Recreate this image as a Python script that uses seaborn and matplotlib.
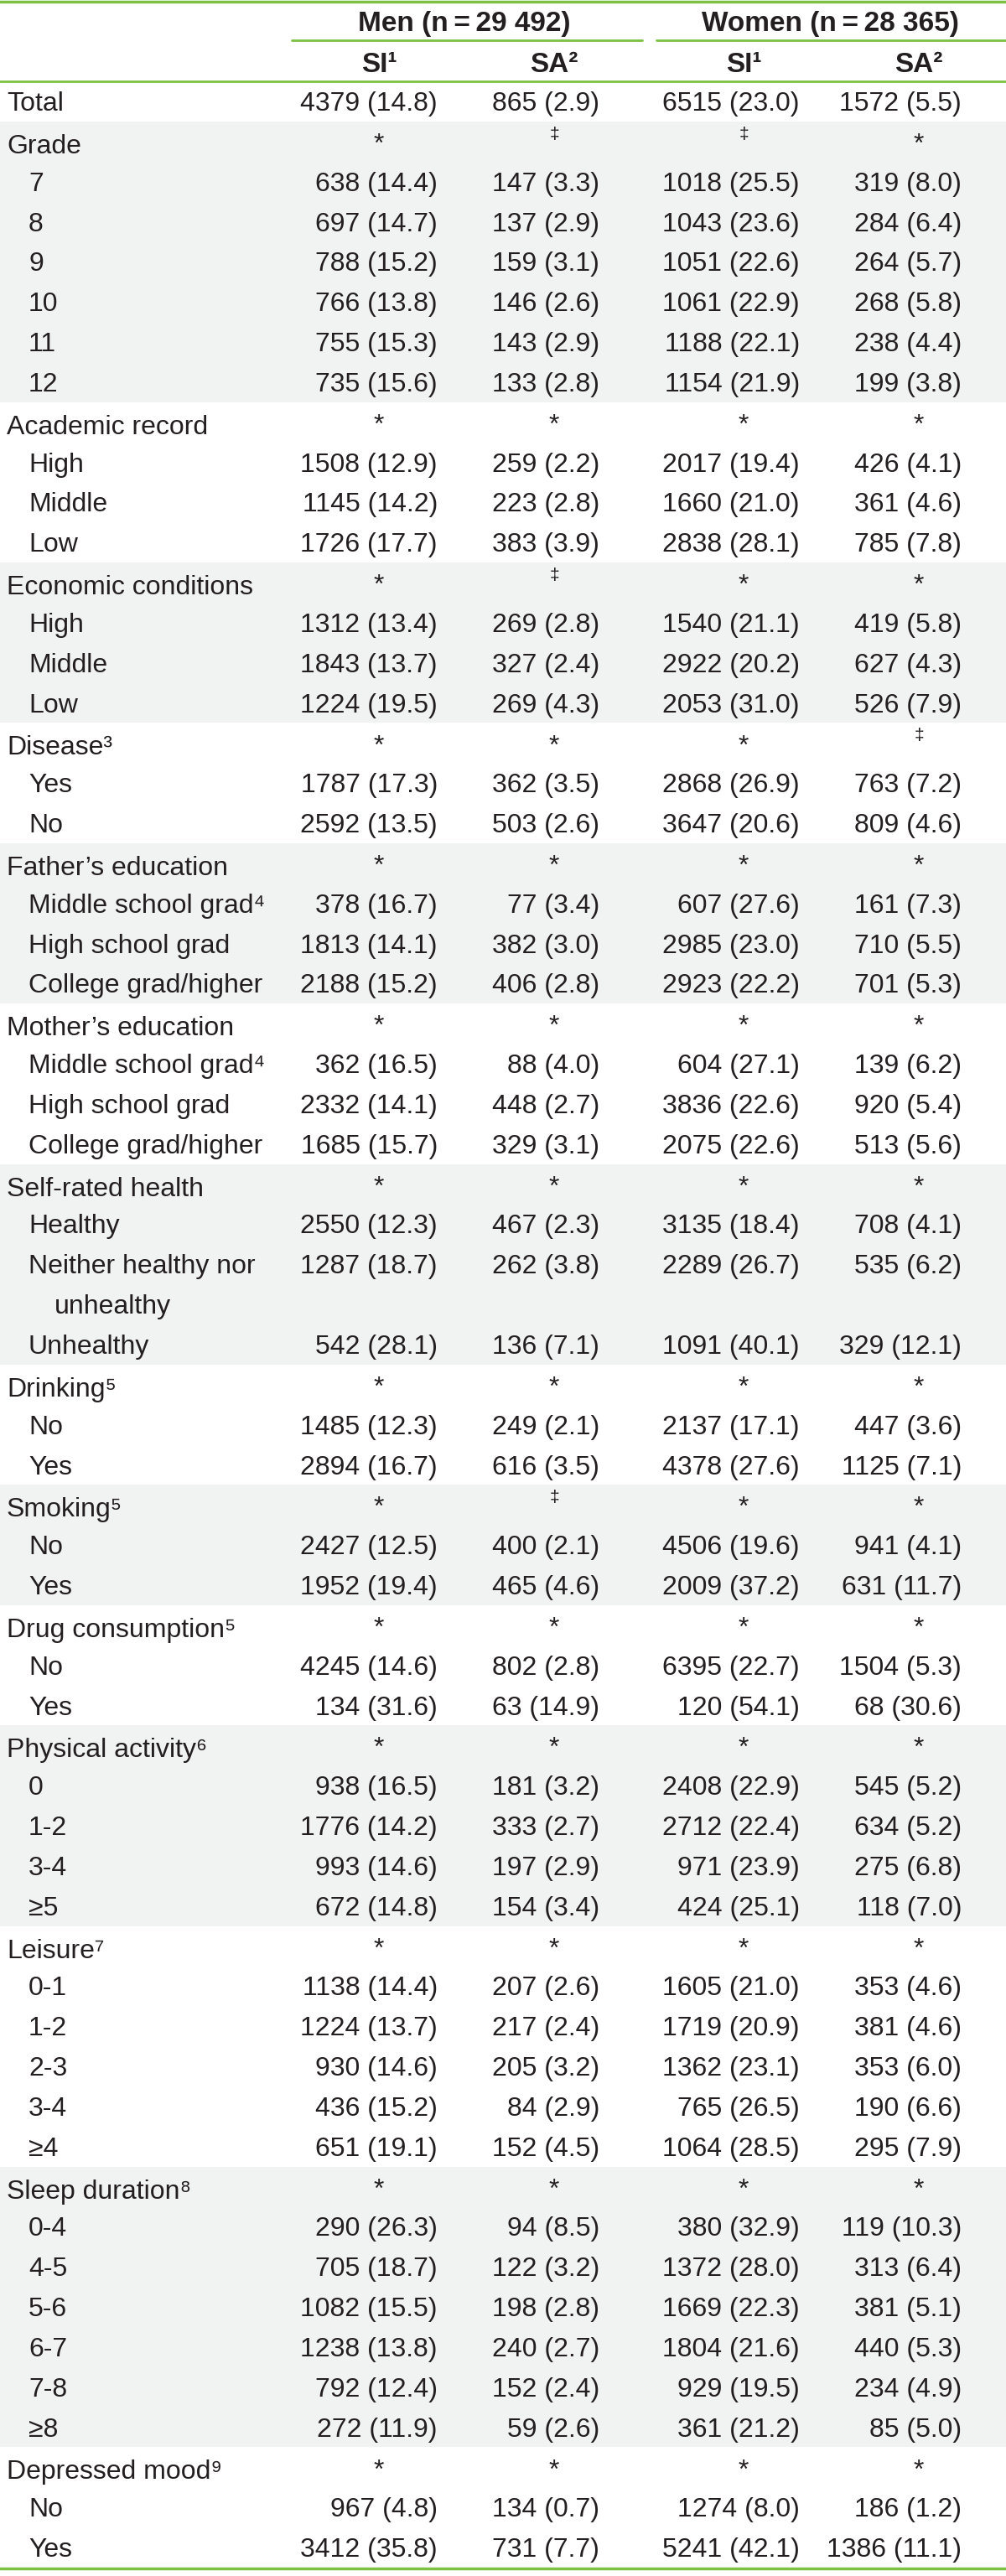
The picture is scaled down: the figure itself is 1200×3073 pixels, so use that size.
import matplotlib
matplotlib.use("Agg")
import matplotlib.pyplot as plt
from matplotlib import font_manager
import seaborn as sns

# Datos de la tabla (n, %) por fila; None = fila de grupo
labels = ["Total", "Grade", "7", "8", "9", "10", "11", "12",
          "Academic record", "High", "Middle", "Low",
          "Economic conditions", "High", "Middle", "Low",
          "Disease³", "Yes", "No",
          "Father’s education", "Middle school grad⁴", "High school grad", "College grad/higher",
          "Mother’s education", "Middle school grad⁴", "High school grad", "College grad/higher",
          "Self-rated health", "Healthy", "Neither healthy nor\nunhealthy", "Unhealthy",
          "Drinking⁵", "No", "Yes",
          "Smoking⁵", "No", "Yes",
          "Drug consumption⁵", "No", "Yes",
          "Physical activity⁶", "0", "1-2", "3-4", "≥5",
          "Leisure⁷", "0-1", "1-2", "2-3", "3-4", "≥4",
          "Sleep duration⁸", "0-4", "4-5", "5-6", "6-7", "7-8", "≥8",
          "Depressed mood⁹", "No", "Yes"]

men_si_n = [4379, None, 638, 697, 788, 766, 755, 735, None, 1508, 1145, 1726, None, 1312, 1843, 1224,
            None, 1787, 2592, None, 378, 1813, 2188, None, 362, 2332, 1685, None, 2550, 1287, 542,
            None, 1485, 2894, None, 2427, 1952, None, 4245, 134, None, 938, 1776, 993, 672,
            None, 1138, 1224, 930, 436, 651, None, 290, 705, 1082, 1238, 792, 272, None, 967, 3412]
men_si_p = [14.8, None, 14.4, 14.7, 15.2, 13.8, 15.3, 15.6, None, 12.9, 14.2, 17.7, None, 13.4, 13.7, 19.5,
            None, 17.3, 13.5, None, 16.7, 14.1, 15.2, None, 16.5, 14.1, 15.7, None, 12.3, 18.7, 28.1,
            None, 12.3, 16.7, None, 12.5, 19.4, None, 14.6, 31.6, None, 16.5, 14.2, 14.6, 14.8,
            None, 14.4, 13.7, 14.6, 15.2, 19.1, None, 26.3, 18.7, 15.5, 13.8, 12.4, 11.9, None, 4.8, 35.8]
men_sa_n = [865, None, 147, 137, 159, 146, 143, 133, None, 259, 223, 383, None, 269, 327, 269,
            None, 362, 503, None, 77, 382, 406, None, 88, 448, 329, None, 467, 262, 136,
            None, 249, 616, None, 400, 465, None, 802, 63, None, 181, 333, 197, 154,
            None, 207, 217, 205, 84, 152, None, 94, 122, 198, 240, 152, 59, None, 134, 731]
men_sa_p = [2.9, None, 3.3, 2.9, 3.1, 2.6, 2.9, 2.8, None, 2.2, 2.8, 3.9, None, 2.8, 2.4, 4.3,
            None, 3.5, 2.6, None, 3.4, 3.0, 2.8, None, 4.0, 2.7, 3.1, None, 2.3, 3.8, 7.1,
            None, 2.1, 3.5, None, 2.1, 4.6, None, 2.8, 14.9, None, 3.2, 2.7, 2.9, 3.4,
            None, 2.6, 2.4, 3.2, 2.9, 4.5, None, 8.5, 3.2, 2.8, 2.7, 2.4, 2.6, None, 0.7, 7.7]
women_si_n = [6515, None, 1018, 1043, 1051, 1061, 1188, 1154, None, 2017, 1660, 2838, None, 1540, 2922, 2053,
              None, 2868, 3647, None, 607, 2985, 2923, None, 604, 3836, 2075, None, 3135, 2289, 1091,
              None, 2137, 4378, None, 4506, 2009, None, 6395, 120, None, 2408, 2712, 971, 424,
              None, 1605, 1719, 1362, 765, 1064, None, 380, 1372, 1669, 1804, 929, 361, None, 1274, 5241]
women_si_p = [23.0, None, 25.5, 23.6, 22.6, 22.9, 22.1, 21.9, None, 19.4, 21.0, 28.1, None, 21.1, 20.2, 31.0,
              None, 26.9, 20.6, None, 27.6, 23.0, 22.2, None, 27.1, 22.6, 22.6, None, 18.4, 26.7, 40.1,
              None, 17.1, 27.6, None, 19.6, 37.2, None, 22.7, 54.1, None, 22.9, 22.4, 23.9, 25.1,
              None, 21.0, 20.9, 23.1, 26.5, 28.5, None, 32.9, 28.0, 22.3, 21.6, 19.5, 21.2, None, 8.0, 42.1]
women_sa_n = [1572, None, 319, 284, 264, 268, 238, 199, None, 426, 361, 785, None, 419, 627, 526,
              None, 763, 809, None, 161, 710, 701, None, 139, 920, 513, None, 708, 535, 329,
              None, 447, 1125, None, 941, 631, None, 1504, 68, None, 545, 634, 275, 118,
              None, 353, 381, 353, 190, 295, None, 119, 313, 381, 440, 234, 85, None, 186, 1386]
women_sa_p = [5.5, None, 8.0, 6.4, 5.7, 5.8, 4.4, 3.8, None, 4.1, 4.6, 7.8, None, 5.8, 4.3, 7.9,
              None, 7.2, 4.6, None, 7.3, 5.5, 5.3, None, 6.2, 5.4, 5.6, None, 4.1, 6.2, 12.1,
              None, 3.6, 7.1, None, 4.1, 11.7, None, 5.3, 30.6, None, 5.2, 5.2, 6.8, 7.0,
              None, 4.6, 4.6, 6.0, 6.6, 7.9, None, 10.3, 6.4, 5.1, 5.3, 4.9, 5.0, None, 1.2, 11.1]

# Marcas de significación de las filas de grupo (en orden de aparición)
sig_men_si = ["*"] * 15
sig_men_sa = ["‡", "*", "‡", "*", "*", "*", "*", "*", "‡", "*", "*", "*", "*", "*"]
sig_women_si = ["‡", "*", "*", "*", "*", "*", "*", "*", "*", "*", "*", "*", "*", "*"]
sig_women_sa = ["*", "*", "*", "‡", "*", "*", "*", "*", "*", "*", "*", "*", "*", "*"]

col_titles = ["SI¹", "SA²", "SI¹", "SA²"]
group_titles = ["Men (n\u2009=\u200929 492)", "Women (n\u2009=\u200928 365)"]

sns.set_theme(style="white")
fams = {f.name for f in font_manager.fontManager.ttflist}
base = "Liberation Sans Narrow" if "Liberation Sans Narrow" in fams else "Liberation Sans"
plt.rcParams["font.family"] = [base, "DejaVu Sans"]

GREEN = "#7dc142"
GRAY = "#f1f2f2"
INK = "#231f20"

W, H = 1200, 3073
fig = plt.figure(figsize=(W / 100, H / 100), dpi=100)
ax = fig.add_axes([0, 0, 1, 1])
ax.set_xlim(0, W)
ax.set_ylim(H, 0)
ax.axis("off")

head_h = 97
n_lines = sum(l.count("\n") + 1 for l in labels)
pitch = (3063 - head_h) / n_lines
fs = 23

col_center = [452, 661, 887, 1096]
col_right = [522, 715, 954, 1147]
cols_n = [men_si_n, men_sa_n, women_si_n, women_sa_n]
cols_p = [men_si_p, men_sa_p, women_si_p, women_sa_p]
sigs = [sig_men_si, sig_men_sa, sig_women_si, sig_women_sa]

# filas: posiciones y bandas grises por grupo
tops = []
line = 0
for l in labels:
    tops.append(head_h + line * pitch)
    line += l.count("\n") + 1
bottoms = tops[1:] + [head_h + line * pitch]

group = 0
sig_i = -1
for i, lab in enumerate(labels):
    is_group = men_si_n[i] is None
    if is_group:
        group += 1
        sig_i += 1
    if group % 2 == 1:
        ax.axhspan(tops[i], bottoms[i], color=GRAY, lw=0, zorder=0)
    top = tops[i]
    if is_group or i == 0:
        ax.text(8, top + (38 if is_group else 35), lab, fontsize=fs, color=INK, va="baseline", ha="left")
    else:
        parts = lab.split("\n")
        for k, p in enumerate(parts):
            ax.text(34 + 31 * (k > 0), top + 35 + k * pitch, p, fontsize=fs, color=INK,
                    va="baseline", ha="left")
    for c in range(4):
        if is_group:
            m = sigs[c][sig_i]
            if m == "*":
                ax.text(col_center[c], top + 36, m, fontsize=fs, color=INK, ha="center", va="baseline")
            else:
                ax.text(col_center[c], top + 21, m, fontsize=15, color=INK, ha="center", va="baseline")
        else:
            ax.text(col_right[c], top + 35, f"{cols_n[c][i]} ({cols_p[c][i]:.1f})", fontsize=fs,
                    color=INK, ha="right", va="baseline")

# cabecera
ax.text(554, 37, group_titles[0], fontsize=24, fontweight="bold", color=INK, ha="center", va="baseline")
ax.text(990, 37, group_titles[1], fontsize=24, fontweight="bold", color=INK, ha="center", va="baseline")
for c in range(4):
    ax.text(col_center[c], 86, col_titles[c], fontsize=24, fontweight="bold", color=INK,
            ha="center", va="baseline")

ax.plot([0, W], [1.5, 1.5], color=GREEN, lw=2.5)
ax.plot([348, 766], [48, 48], color=GREEN, lw=2)
ax.plot([783, W], [48, 48], color=GREEN, lw=2)
ax.plot([0, W], [head_h, head_h], color=GREEN, lw=2)
ax.plot([0, W], [3064, 3064], color=GREEN, lw=2.5)

fig.savefig("out.png", dpi=100)
